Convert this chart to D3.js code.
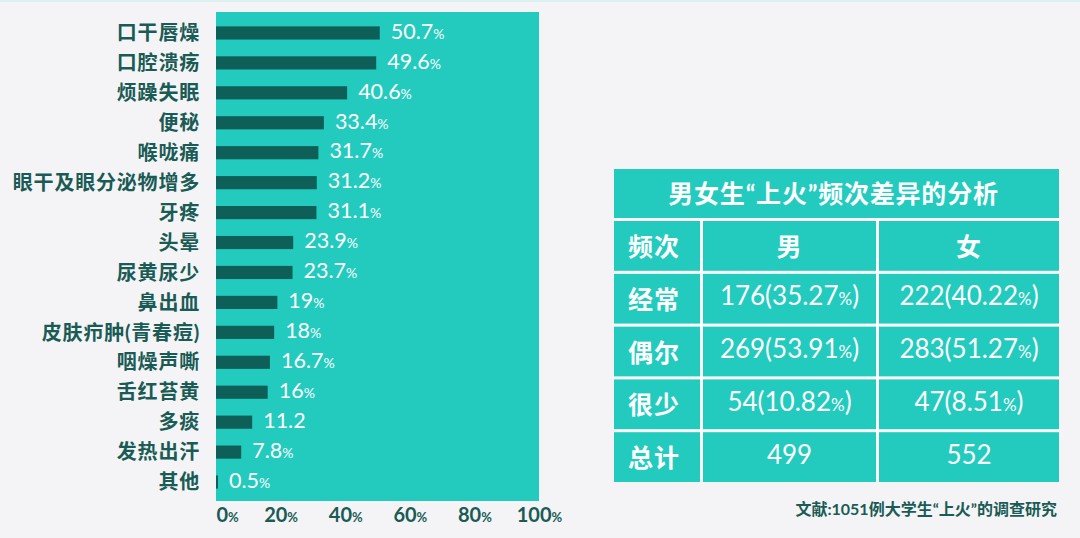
<!DOCTYPE html>
<html>
<head>
<meta charset="utf-8">
<script src="https://cdn.jsdelivr.net/npm/d3@7"></script>
<style>
  html, body { margin: 0; padding: 0; background: #f4f4f6; }
  svg { display: block; }
</style>
</head>
<body>
<svg id="chart" width="1080" height="538"></svg>
<script>
// ---- data ----
const categories = ["口干唇燥", "口腔溃疡", "烦躁失眠", "便秘", "喉咙痛", "眼干及眼分泌物增多", "牙疼", "头晕",
  "尿黄尿少", "鼻出血", "皮肤疖肿(青春痘)", "咽燥声嘶", "舌红苔黄", "多痰", "发热出汗", "其他"];
const values = [50.7, 49.6, 40.6, 33.4, 31.7, 31.2, 31.1, 23.9, 23.7, 19, 18, 16.7, 16, 11.2, 7.8, 0.5];
const valueLabels = ["50.7%", "49.6%", "40.6%", "33.4%", "31.7%", "31.2%", "31.1%", "23.9%", "23.7%",
  "19%", "18%", "16.7%", "16%", "11.2", "7.8%", "0.5%"];
const tickValues = [0, 20, 40, 60, 80, 100];
const tickLabels = ["0%", "20%", "40%", "60%", "80%", "100%"];

const tableTitle = "男女生\u201C上火\u201D频次差异的分析";
const tableHeader = ["频次", "男", "女"];
const tableRowLabels = ["经常", "偶尔", "很少", "总计"];
const maleCells = ["176(35.27%)", "269(53.91%)", "54(10.82%)", "499"];
const femaleCells = ["222(40.22%)", "283(51.27%)", "47(8.51%)", "552"];
const sourceNote = "文献:1051例大学生\u201C上火\u201D的调查研究";

// ---- styles ----
const TEAL = "#22cbbe";
const DARK = "#0e5f58";
const TEXTDARK = "#1a5b55";
const FONT = "Lato, 'Noto Sans CJK SC', sans-serif";

const svg = d3.select("#chart");
svg.append("rect").attr("x", 0).attr("y", 0).attr("width", 1080).attr("height", 538).attr("fill", "#f4f4f6");
svg.append("rect").attr("x", 0).attr("y", 0).attr("width", 1080).attr("height", 2).attr("fill", "#dcf1f1");

// helper: text with small %
function pctText(sel, label, big, small) {
  const hasPct = label.endsWith("%");
  const num = hasPct ? label.slice(0, -1) : label;
  sel.append("tspan").attr("font-size", big).text(num);
  if (hasPct) sel.append("tspan").attr("font-size", small).text("%");
}

// ---- bar chart ----
const x = d3.scaleLinear().domain([0, 100]).range([216, 539]);
const y = d3.scaleBand().domain(categories).range([18, 497]).paddingInner(0.56).paddingOuter(0.28);

svg.append("rect")
  .attr("x", x(0)).attr("y", 12)
  .attr("width", x(100) - x(0)).attr("height", 489)
  .attr("fill", TEAL);

const rows = categories.map((c, i) => ({ c, v: values[i], l: valueLabels[i] }));

svg.append("g").selectAll("rect").data(rows).join("rect")
  .attr("x", x(0))
  .attr("y", d => y(d.c))
  .attr("width", d => Math.max(2, x(d.v) - x(0)))
  .attr("height", y.bandwidth())
  .attr("fill", DARK);

svg.append("g").selectAll("text").data(rows).join("text")
  .attr("x", 200)
  .attr("y", d => y(d.c) + y.bandwidth() / 2)
  .attr("dy", "0.36em")
  .attr("text-anchor", "end")
  .attr("font-family", FONT)
  .attr("font-weight", "bold")
  .attr("font-size", 20)
  .attr("letter-spacing", 0.8)
  .attr("fill", TEXTDARK)
  .text(d => d.c);

svg.append("g").selectAll("text").data(rows).join("text")
  .attr("x", d => Math.max(x(d.v), x(0) + 2) + 11)
  .attr("y", d => y(d.c) + y.bandwidth() / 2)
  .attr("dy", "0.36em")
  .attr("font-family", FONT)
  .attr("fill", "#ffffff")
  .each(function (d) { pctText(d3.select(this), d.l, 21.5, 14); });

// x axis
const axis = d3.axisBottom(x).tickValues(tickValues).tickSize(0).tickFormat((d, i) => tickLabels[i]);
const gx = svg.append("g").attr("transform", "translate(0,501)").call(axis);
gx.select(".domain").remove();
gx.selectAll(".tick text").each(function (d, i) {
  const t = d3.select(this);
  const lab = tickLabels[i];
  t.text(null)
    .attr("y", 17).attr("dy", "0.36em")
    .attr("font-family", FONT).attr("font-weight", "bold")
    .attr("fill", TEXTDARK)
    .attr("text-anchor", i === 0 ? "start" : "middle");
  pctText(t, lab, 20, 13);
});

// ---- table ----
const tX0 = 614, tX1 = 1059, tY0 = 169, tY1 = 479, gap = 3;
const titleH = 49;
const colEdges = [tX0, 700, 876, tX1];
const nRows = 1 + tableRowLabels.length;
const rowY = d3.scaleBand().domain(d3.range(nRows)).range([tY0 + titleH, tY1 + gap]).paddingInner(0).paddingOuter(0);

const tg = svg.append("g");
tg.append("rect").attr("x", tX0).attr("y", tY0 + titleH).attr("width", tX1 - tX0).attr("height", tY1 - tY0 - titleH).attr("fill", "#ffffff");
tg.append("rect").attr("x", tX0).attr("y", tY0).attr("width", tX1 - tX0).attr("height", titleH).attr("fill", TEAL);
tg.append("text")
  .attr("x", (tX0 + tX1) / 2 - 3).attr("y", tY0 + titleH / 2).attr("dy", "0.36em")
  .attr("text-anchor", "middle").attr("font-family", FONT).attr("font-weight", "bold")
  .attr("font-size", 25).attr("letter-spacing", 0.8).attr("fill", "#ffffff").text(tableTitle);

const tableData = [tableHeader].concat(tableRowLabels.map((r, i) => [r, maleCells[i], femaleCells[i]]));
tableData.forEach((row, ri) => {
  const ry = rowY(ri) + gap;
  const rh = rowY.bandwidth() - gap;
  row.forEach((cell, ci) => {
    const cx0 = colEdges[ci] + (ci === 0 ? 0 : gap);
    const cx1 = colEdges[ci + 1];
    tg.append("rect").attr("x", cx0).attr("y", ry).attr("width", cx1 - cx0).attr("height", rh).attr("fill", TEAL);
    const t = tg.append("text")
      .attr("x", (cx0 + cx1) / 2 - (ci === 0 ? 3 : 0)).attr("y", ry + rh / 2 + 1).attr("dy", "0.36em")
      .attr("text-anchor", "middle").attr("font-family", FONT)
      .attr("fill", "#ffffff");
    if (ci === 0 || ri === 0) {
      t.attr("font-size", 25).attr("font-weight", "bold").attr("letter-spacing", 1).text(cell);
    } else {
      t.attr("font-weight", "normal");
      const parts = cell.split("%");
      t.append("tspan").attr("font-size", 26).text(parts[0]);
      if (parts.length > 1) {
        t.append("tspan").attr("font-size", 17).text("%");
        t.append("tspan").attr("font-size", 26).text(parts[1]);
      }
    }
  });
});

// source note
svg.append("text")
  .attr("x", 1057).attr("y", 509).attr("dy", "0.36em")
  .attr("text-anchor", "end").attr("font-family", FONT).attr("font-weight", "bold")
  .attr("font-size", 16).attr("fill", TEXTDARK).text(sourceNote);
</script>
</body>
</html>
